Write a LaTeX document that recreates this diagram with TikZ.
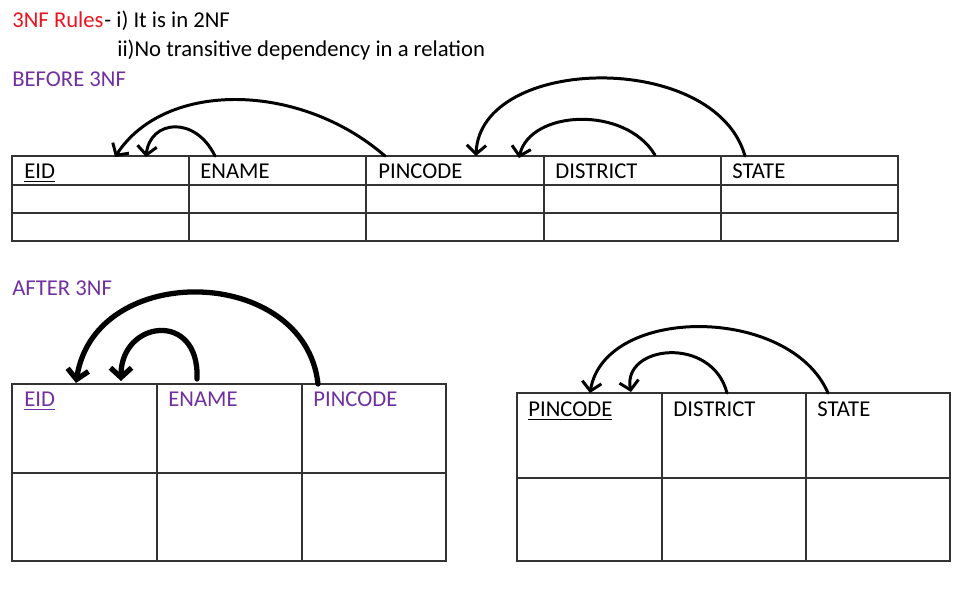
\documentclass[tikz,border=0pt]{standalone}
\usepackage{fontspec}
\setmainfont{Carlito}
\usetikzlibrary{arrows.meta}
\definecolor{nfred}{RGB}{235,20,30}
\definecolor{nfpurple}{RGB}{112,48,160}
\tikzset{
  txt/.style={anchor=base west,inner sep=0pt,font=\fontsize{12.9}{15}\selectfont},
  grid/.style={line width=0.7pt,black!80},
  dep/.style={line width=1.7pt,line cap=round,-{Straight Barb[length=5pt,width=11pt]}},
  bigdep/.style={line width=3pt,line cap=round,-{Straight Barb[length=5.5pt,width=12pt]}}
}
\begin{document}
\begin{tikzpicture}[x=0.02cm,y=-0.02cm]
  \useasboundingbox (0,0) rectangle (975,607);
  % heading
  \node[txt,text=nfred] (rules) at (12,28) {3NF Rules};
  \node[txt] (r1) at (rules.base east) {- i) It is in 2NF};
  \node[txt] (r2) at (117,57) {ii)No transitive dependency in a relation};
  \node[txt,text=nfpurple] (before) at (12,87) {BEFORE 3NF};
  % before table
  \draw[grid] (12,156) rectangle (898,241);
  \draw[grid] (12,185) -- (898,185);
  \draw[grid] (12,213) -- (898,213);
  \foreach \x in {189,366,544,721}
    \draw[grid] (\x,156) -- (\x,241);
  \node[txt] (eid) at (24,179) {\underline{EID}};
  \node[txt] (ename) at (200,179) {ENAME};
  \node[txt] (pin) at (378,179) {PINCODE};
  \node[txt] (dist) at (555,179) {DISTRICT};
  \node[txt] (state) at (732,179) {STATE};
  % dependencies before
  \coordinate (pinFrom) at (385,156);
  \coordinate (enameFrom) at (215,156);
  \coordinate (eidTo1) at (115,157);
  \coordinate (eidTo2) at (146,157);
  \coordinate (stateFrom) at (745,156);
  \coordinate (distFrom) at (655,155);
  \coordinate (pinTo1) at (476,156);
  \coordinate (pinTo2) at (519,158);
  \draw[dep] (pinFrom) .. controls (300,82) and (165,80) .. (eidTo1);
  \draw[dep] (enameFrom) .. controls (195,115) and (150,120) .. (eidTo2);
  \draw[dep] (stateFrom) .. controls (715,50) and (480,55) .. (pinTo1);
  \draw[dep] (distFrom) .. controls (625,105) and (530,110) .. (pinTo2);
  % after
  \node[txt,text=nfpurple] (after) at (12,296) {AFTER 3NF};
  \draw[grid] (12,384) rectangle (446,561);
  \draw[grid] (12,473) -- (446,473);
  \foreach \x in {157,302}
    \draw[grid] (\x,384) -- (\x,561);
  \node[txt,text=nfpurple] (aeid) at (24,407) {\underline{EID}};
  \node[txt,text=nfpurple] (aename) at (168,407) {ENAME};
  \node[txt,text=nfpurple] (apin) at (313,407) {PINCODE};
  \draw[grid] (517,393) rectangle (950,561);
  \draw[grid] (517,478) -- (950,478);
  \foreach \x in {662,806}
    \draw[grid] (\x,393) -- (\x,561);
  \node[txt] (bpin) at (528,417) {\underline{PINCODE}};
  \node[txt] (bdist) at (673,417) {DISTRICT};
  \node[txt] (bstate) at (817,417) {STATE};
  % dependencies after
  \coordinate (apinFrom) at (318,384);
  \coordinate (aenameFrom) at (197,379);
  \coordinate (aeidTo1) at (76,383);
  \coordinate (aeidTo2) at (121,381);
  \coordinate (bstateFrom) at (828,393);
  \coordinate (bdistFrom) at (727,393);
  \coordinate (bpinTo1) at (590,393);
  \coordinate (bpinTo2) at (631,392);
  \draw[bigdep] (apinFrom) .. controls (305,265) and (95,260) .. (aeidTo1);
  \draw[bigdep] (aenameFrom) .. controls (200,310) and (121,320) .. (aeidTo2);
  \draw[dep] (bstateFrom) .. controls (790,305) and (605,305) .. (bpinTo1);
  \draw[dep] (bdistFrom) .. controls (712,335) and (622,345) .. (bpinTo2);
\end{tikzpicture}
\end{document}
